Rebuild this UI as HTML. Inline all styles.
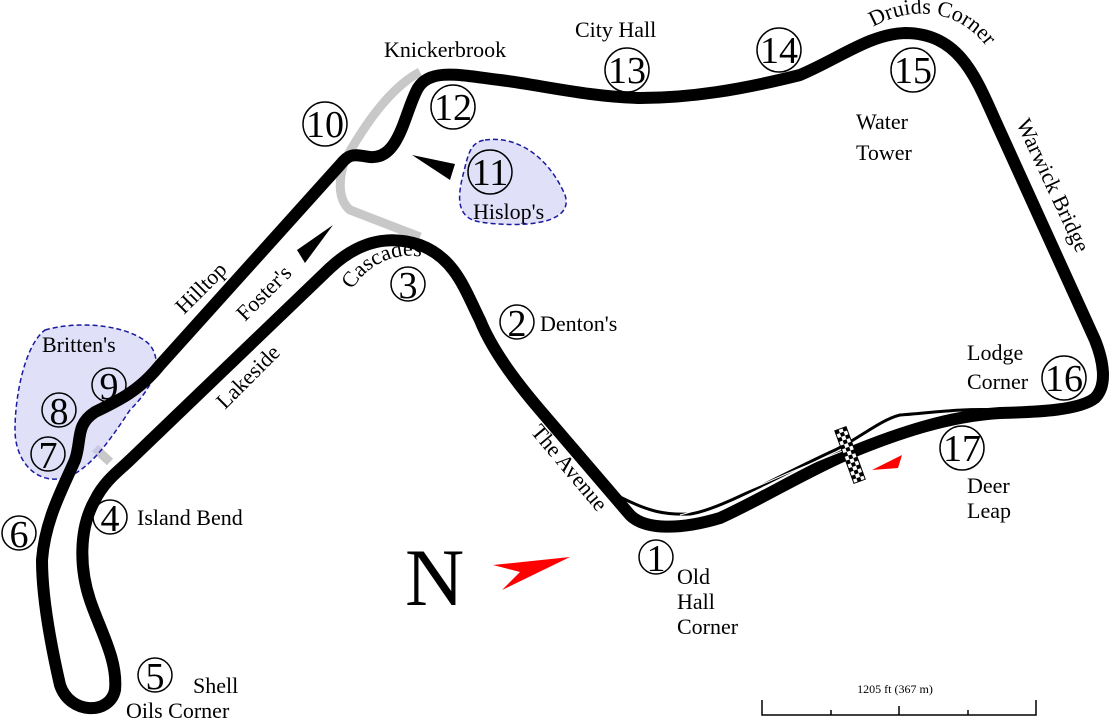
<!DOCTYPE html>
<html><head><meta charset="utf-8"><style>
html,body{margin:0;padding:0;background:#fff;}
svg{display:block;font-family:"Liberation Serif",serif;}
</style></head><body>
<svg width="1109" height="720" viewBox="0 0 1109 720" xmlns="http://www.w3.org/2000/svg">
<defs>
<path id="casc" d="M352,290 C372,255 420,243 450,272"/>
<path id="druid" d="M873,27 C920,0 980,12 1003,78"/>
</defs>
<path d="M420,72 C395,85 370,115 345,160 C338,180 338,200 350,210 L420,237" fill="none" stroke="#c8c8c8" stroke-width="9"/>
<path d="M95,448 L110,462" fill="none" stroke="#c8c8c8" stroke-width="9"/>
<path d="M45,330 C80,320 130,325 150,345 C165,365 150,390 130,410 C110,440 90,470 65,478 C35,485 15,460 15,430 C15,395 25,345 45,330 Z" fill="#ccccf5" fill-opacity="0.6" stroke="#1a1aa0" stroke-width="1.5" stroke-dasharray="5,3"/>
<path d="M485,140 C520,135 550,160 565,195 C575,225 520,228 480,222 C455,218 458,195 463,175 C468,155 470,142 485,140 Z" fill="#ccccf5" fill-opacity="0.6" stroke="#1a1aa0" stroke-width="1.5" stroke-dasharray="5,3"/>
<path d="M620,497 C650,512 665,515 690,514 C720,510 780,475 835,450 C860,438 880,420 900,415 C930,413 960,408 1000,410" fill="none" stroke="#000" stroke-width="3"/>
<path d="M845,455 C900,432 950,416 1000,413 C1040,412 1080,410 1095,398 C1108,385 1103,360 1095,340 L995,120 C975,75 958,33 905,33 C870,34 840,58 800,75 C740,90 690,98 640,98 C590,97 540,85 500,80 C460,75 430,68 418,88 C405,110 400,160 370,157 C355,155 350,152 340,165 L160,365 C140,390 120,400 95,412 C75,425 82,440 75,460 C62,490 45,520 42,560 C42,600 52,650 60,685 C70,715 110,715 115,690 C118,660 100,630 90,600 C80,570 78,530 95,500 C105,480 120,470 130,460 L330,268 C360,240 390,235 420,245 C455,258 465,290 480,320 C490,345 510,375 540,410 L630,515 C645,530 680,530 720,518 C760,500 800,475 845,455" fill="none" stroke="#000" stroke-width="12" stroke-linejoin="round"/>
<path d="M680,515 C720,505 780,475 845,450" fill="none" stroke="#fff" stroke-width="1"/>
<g transform="translate(850,455) rotate(-20)">
<rect x="-6" y="-28" width="12" height="56" fill="#fff" stroke="#000" stroke-width="1"/>
<g fill="#000">
<rect x="-6" y="-28" width="4" height="4"/><rect x="2" y="-28" width="4" height="4"/><rect x="-2" y="-24" width="4" height="4"/>
<rect x="-6" y="-20" width="4" height="4"/><rect x="2" y="-20" width="4" height="4"/><rect x="-2" y="-16" width="4" height="4"/>
<rect x="-6" y="-12" width="4" height="4"/><rect x="2" y="-12" width="4" height="4"/><rect x="-2" y="-8" width="4" height="4"/>
<rect x="-6" y="-4" width="4" height="4"/><rect x="2" y="-4" width="4" height="4"/><rect x="-2" y="0" width="4" height="4"/>
<rect x="-6" y="4" width="4" height="4"/><rect x="2" y="4" width="4" height="4"/><rect x="-2" y="8" width="4" height="4"/>
<rect x="-6" y="12" width="4" height="4"/><rect x="2" y="12" width="4" height="4"/><rect x="-2" y="16" width="4" height="4"/>
<rect x="-6" y="20" width="4" height="4"/><rect x="2" y="20" width="4" height="4"/><rect x="-2" y="24" width="4" height="4"/>
</g></g>
<polygon points="872,470 902,455 898,468" fill="#f00"/>
<polygon points="493,565 570,557 502,590 520,572" fill="#f00"/>
<polygon points="412,155 455,164 450,180" fill="#000"/>
<polygon points="333,225 297,250 305,263" fill="#000"/>
<text x="405" y="605" font-size="82">N</text>
<g fill="none" stroke="#000" stroke-width="1.5">
<circle cx="656" cy="557" r="17"/><circle cx="517" cy="322" r="17"/><circle cx="408" cy="284" r="17"/>
<circle cx="110" cy="517" r="17"/><circle cx="155" cy="675" r="17"/><circle cx="19" cy="533" r="17"/>
<circle cx="48" cy="454" r="17"/><circle cx="59" cy="410" r="17"/><circle cx="109" cy="385" r="17"/>
<circle cx="325" cy="124" r="22"/><circle cx="490" cy="172" r="22"/><circle cx="453" cy="107" r="22"/>
<circle cx="627" cy="70" r="22"/><circle cx="779" cy="50" r="22"/><circle cx="913" cy="70" r="22"/>
<circle cx="1064" cy="378" r="22"/><circle cx="962" cy="448" r="22"/>
</g>
<g font-size="38" text-anchor="middle">
<text x="656" y="571">1</text><text x="517" y="336">2</text><text x="408" y="298">3</text>
<text x="110" y="531">4</text><text x="155" y="689">5</text><text x="19" y="547">6</text>
<text x="48" y="468">7</text><text x="59" y="424">8</text><text x="109" y="399">9</text>
<text x="325" y="137">10</text><text x="490" y="185">11</text><text x="453" y="120">12</text>
<text x="627" y="83">13</text><text x="779" y="63">14</text><text x="913" y="83">15</text>
<text x="1064" y="391">16</text><text x="962" y="461">17</text>
</g>
<g font-size="22">
<text x="384" y="57">Knickerbrook</text>
<text x="575" y="37">City Hall</text>
<text x="856" y="129">Water</text><text x="856" y="160">Tower</text>
<text x="473" y="219">Hislop's</text>
<text x="42" y="352">Britten's</text>
<text x="540" y="331">Denton's</text>
<text x="137" y="525">Island Bend</text>
<text x="193" y="693">Shell</text><text x="126" y="718">Oils Corner</text>
<text x="677" y="584">Old</text><text x="677" y="609">Hall</text><text x="677" y="634">Corner</text>
<text x="967" y="360">Lodge</text><text x="967" y="389">Corner</text>
<text x="967" y="493">Deer</text><text x="967" y="518">Leap</text>
<text><textPath href="#druid">Druids Corner</textPath></text>
<text transform="translate(1016,123) rotate(65)">Warwick Bridge</text>
<text transform="translate(184,315) rotate(-45)">Hilltop</text>
<text transform="translate(245,322) rotate(-45)">Foster's</text>
<text transform="translate(225,410) rotate(-45)">Lakeside</text>
<text><textPath href="#casc">Cascades</textPath></text>
<text transform="translate(530,432) rotate(50)">The Avenue</text>
</g>
<text x="895" y="693" font-size="12" text-anchor="middle">1205 ft (367 m)</text>
<path d="M762,700 V715 H1036 V700 M831,710 V715 M899,706 V715 M968,710 V715" fill="none" stroke="#000" stroke-width="1.5"/>
</svg>
</body></html>
